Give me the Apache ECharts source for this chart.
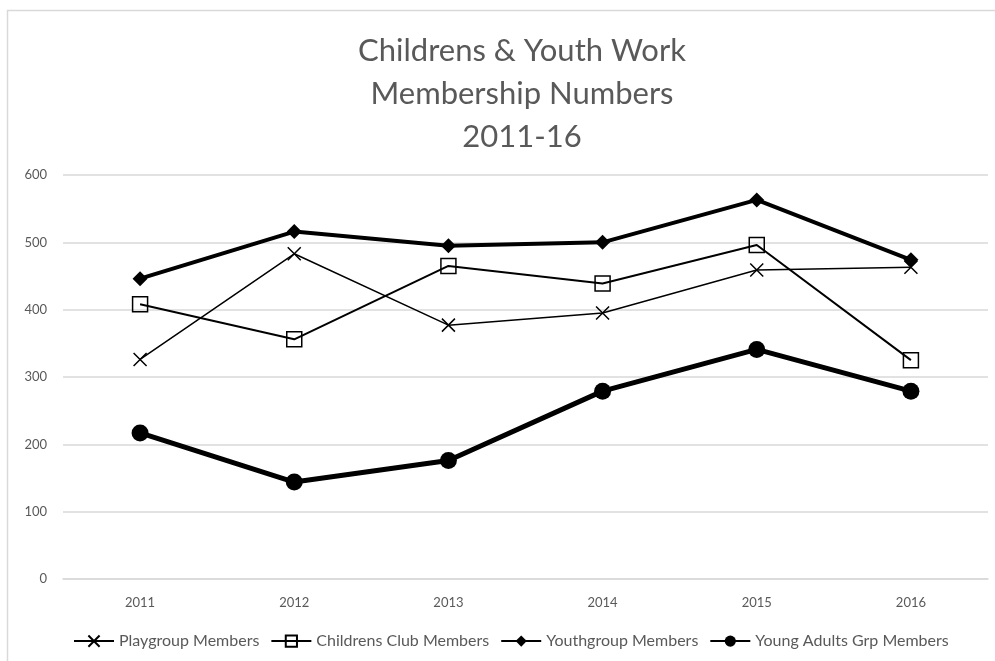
<!DOCTYPE html>
<html>
<head>
<meta charset="utf-8">
<title>Childrens & Youth Work Membership Numbers 2011-16</title>
<script src="https://cdn.jsdelivr.net/npm/echarts@6/dist/echarts.min.js"></script>
<style>
  html, body { margin: 0; padding: 0; background: #fff; }
  #chart { width: 995px; height: 661px; }
</style>
</head>
<body>
<div id="chart"></div>
<script>
// Years on the category axis
const years = ['2011', '2012', '2013', '2014', '2015', '2016'];

// Membership counts per group
const playgroup = [326, 483, 377, 395, 459, 463];
const childrensClub = [408, 356, 465, 439, 496, 325];
const youthgroup = [446, 516, 495, 500, 563, 474];
const youngAdults = [217, 144, 176, 279, 341, 279];

const seriesNames = ['Playgroup Members', 'Childrens Club Members', 'Youthgroup Members', 'Young Adults Grp Members'];

const FONT = 'Lato, "Open Sans", sans-serif';
const GREY = '#595959';

const chart = echarts.init(document.getElementById('chart'), null, { renderer: 'canvas' });

chart.setOption({
  backgroundColor: '#fff',
  animation: false,
  title: {
    text: 'Childrens & Youth Work\nMembership Numbers\n2011-16',
    left: 517,
    textAlign: 'center',
    top: 24,
    textStyle: { fontFamily: FONT, fontSize: 31, fontWeight: 'normal', color: GREY, lineHeight: 43 }
  },
  graphic: [{
    type: 'rect',
    shape: { x: 7.5, y: 10.5, width: 1100, height: 800 },
    style: { fill: 'none', stroke: '#d9d9d9', lineWidth: 1.5 },
    silent: true
  }],
  grid: { left: 63, right: 7, top: 175, bottom: 82, containLabel: false },
  legend: {
    top: 628,
    left: 68,
    itemGap: 11,
    itemWidth: 40,
    itemHeight: 14,
    textStyle: { fontFamily: FONT, fontSize: 16, color: GREY },
    data: seriesNames
  },
  xAxis: {
    type: 'category',
    data: years,
    boundaryGap: true,
    axisLine: { show: true, lineStyle: { color: '#d9d9d9', width: 1.5 } },
    axisTick: { show: false },
    axisLabel: { fontFamily: FONT, fontSize: 13, color: GREY, margin: 17 }
  },
  yAxis: {
    type: 'value',
    min: 0,
    max: 600,
    interval: 100,
    axisLine: { show: false },
    axisTick: { show: false },
    axisLabel: { fontFamily: FONT, fontSize: 13, color: GREY, margin: 16 },
    splitLine: { lineStyle: { color: '#d9d9d9', width: 1.5 } }
  },
  series: [
    {
      name: seriesNames[0],
      type: 'line',
      data: playgroup,
      symbol: 'path://M0,0L10,10M10,0L0,10',
      symbolSize: 13,
      showAllSymbol: true,
      lineStyle: { color: '#000', width: 1.5 },
      itemStyle: { color: 'none', borderColor: '#000', borderWidth: 1.5 },
      z: 3
    },
    {
      name: seriesNames[1],
      type: 'line',
      data: childrensClub,
      symbol: 'rect',
      symbolSize: 15,
      lineStyle: { color: '#000', width: 2 },
      itemStyle: { color: 'transparent', borderColor: '#000', borderWidth: 1.5 },
      z: 4
    },
    {
      name: seriesNames[2],
      type: 'line',
      data: youthgroup,
      symbol: 'diamond',
      symbolSize: 15,
      lineStyle: { color: '#000', width: 4 },
      itemStyle: { color: '#000' },
      z: 5
    },
    {
      name: seriesNames[3],
      type: 'line',
      data: youngAdults,
      symbol: 'circle',
      symbolSize: 17,
      lineStyle: { color: '#000', width: 5 },
      itemStyle: { color: '#000' },
      z: 6
    }
  ]
});
</script>
</body>
</html>
